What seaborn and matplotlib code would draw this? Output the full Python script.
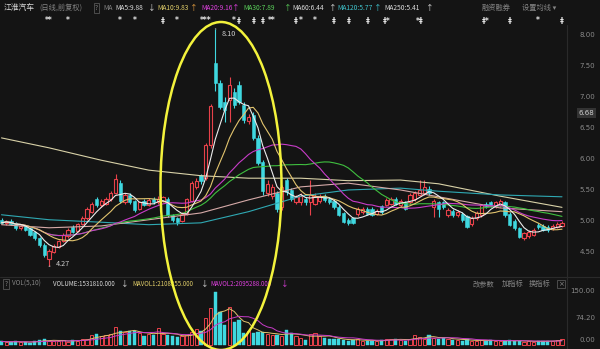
import numpy as np
import pandas as pd
import matplotlib
matplotlib.use("Agg")
import matplotlib.pyplot as plt
import matplotlib.transforms as mtrans
from matplotlib.patches import Ellipse
from matplotlib.lines import Line2D
import seaborn as sns

# ---------------- data ----------------
opens = [5.02, 4.96, 5.00, 4.97, 4.88, 4.92, 4.88, 4.82, 4.72, 4.62,
         4.38, 4.50, 4.58, 4.68, 4.75, 4.90, 4.84, 4.95, 5.04, 5.15,
         5.35, 5.25, 5.28, 5.35, 5.45, 5.62, 5.30, 5.42, 5.32, 5.20,
         5.32, 5.26, 5.36, 5.30, 5.33, 5.36, 5.10, 5.04, 5.00, 5.12,
         5.32, 5.55, 5.74, 5.70, 6.22, 7.55, 7.22, 6.92, 6.95, 7.08,
         7.19, 6.87, 6.62, 6.71, 6.34, 5.95, 5.45, 5.40, 5.45, 5.22,
         5.66, 5.50, 5.30, 5.30, 5.36, 5.30, 5.28, 5.32, 5.40, 5.36,
         5.33, 5.23, 5.13, 5.02, 5.05, 5.12, 5.15, 5.20, 5.20, 5.12,
         5.24, 5.26, 5.28, 5.36, 5.26, 5.30, 5.30, 5.35, 5.42, 5.45,
         5.52, 5.22, 5.30, 5.30, 5.10, 5.16, 5.10, 5.12, 5.08, 4.95,
         5.05, 5.10, 5.28, 5.30, 5.24, 5.25, 5.30, 5.12, 5.00, 4.89,
         4.72, 4.75, 4.77, 4.94, 4.92, 4.90, 4.88, 4.90, 4.92]
closes = [4.97, 5.00, 4.95, 4.88, 4.92, 4.86, 4.78, 4.72, 4.62, 4.45,
          4.52, 4.60, 4.68, 4.77, 4.85, 4.82, 4.95, 5.05, 5.20, 5.28,
          5.25, 5.32, 5.36, 5.45, 5.68, 5.32, 5.42, 5.30, 5.18, 5.30,
          5.26, 5.34, 5.30, 5.36, 5.38, 5.10, 5.02, 4.98, 5.12, 5.35,
          5.62, 5.65, 5.64, 6.22, 6.85, 7.22, 6.84, 6.79, 7.19, 6.87,
          6.92, 6.63, 6.68, 6.34, 5.94, 5.48, 5.60, 5.55, 5.20, 5.55,
          5.46, 5.35, 5.38, 5.40, 5.30, 5.42, 5.40, 5.40, 5.34, 5.30,
          5.22, 5.10, 4.98, 4.97, 4.97, 5.20, 5.20, 5.12, 5.10, 5.16,
          5.15, 5.34, 5.36, 5.28, 5.32, 5.20, 5.42, 5.45, 5.50, 5.55,
          5.45, 5.32, 5.20, 5.22, 5.18, 5.10, 5.14, 5.02, 4.90, 5.05,
          5.13, 5.25, 5.24, 5.26, 5.30, 5.32, 5.10, 4.94, 4.88, 4.74,
          4.80, 4.82, 4.86, 4.90, 4.86, 4.86, 4.92, 4.95, 4.97]
highs = [5.05, 5.02, 5.03, 4.99, 4.95, 4.94, 4.90, 4.84, 4.74, 4.64,
         4.55, 4.63, 4.70, 4.80, 4.88, 4.93, 4.97, 5.08, 5.22, 5.31,
         5.38, 5.35, 5.38, 5.48, 5.76, 5.66, 5.45, 5.45, 5.34, 5.33,
         5.35, 5.37, 5.39, 5.40, 5.41, 5.38, 5.12, 5.06, 5.14, 5.37,
         5.64, 5.70, 5.76, 6.25, 6.88, 8.10, 7.28, 7.00, 7.32, 7.15,
         7.25, 6.92, 6.72, 6.75, 6.38, 5.98, 5.66, 5.60, 5.48, 5.58,
         5.70, 5.53, 5.42, 5.45, 5.39, 5.66, 5.45, 5.43, 5.43, 5.38,
         5.35, 5.26, 5.15, 5.05, 5.07, 5.23, 5.23, 5.23, 5.22, 5.19,
         5.26, 5.37, 5.39, 5.38, 5.35, 5.33, 5.45, 5.48, 5.66, 5.66,
         5.56, 5.35, 5.33, 5.33, 5.21, 5.19, 5.17, 5.14, 5.10, 5.08,
         5.16, 5.28, 5.31, 5.33, 5.33, 5.35, 5.33, 5.14, 5.03, 4.91,
         4.83, 4.85, 4.89, 4.97, 4.95, 4.93, 4.95, 4.98, 5.00]
lows = [4.95, 4.94, 4.93, 4.86, 4.86, 4.84, 4.76, 4.70, 4.58, 4.42,
        4.27, 4.48, 4.56, 4.66, 4.73, 4.80, 4.82, 4.93, 5.02, 5.13,
        5.22, 5.23, 5.26, 5.33, 5.43, 5.29, 5.28, 5.28, 5.15, 5.18,
        5.24, 5.24, 5.28, 5.28, 5.31, 5.07, 4.99, 4.93, 4.98, 5.10,
        5.30, 5.52, 5.60, 5.66, 6.18, 7.10, 6.80, 6.60, 6.60, 6.82,
        6.88, 6.58, 6.56, 6.30, 5.90, 5.42, 5.40, 5.36, 5.15, 5.18,
        5.42, 5.32, 5.27, 5.26, 5.26, 5.10, 5.25, 5.29, 5.31, 5.27,
        5.20, 5.08, 4.96, 4.94, 4.95, 5.08, 5.12, 5.09, 5.08, 5.10,
        5.12, 5.24, 5.25, 5.25, 5.23, 5.17, 5.27, 5.32, 5.40, 5.42,
        5.42, 5.06, 5.06, 5.19, 5.07, 5.07, 5.07, 4.99, 4.88, 4.92,
        5.02, 5.07, 5.21, 5.23, 5.21, 5.22, 5.07, 4.92, 4.85, 4.72,
        4.70, 4.72, 4.75, 4.87, 4.84, 4.83, 4.86, 4.88, 4.90]
volumes = [10, 8, 9, 10, 7, 9, 6, 12, 14, 17,
           12, 10, 10, 14, 9, 14, 12, 16, 18, 28,
           30, 25, 28, 30, 50, 39, 36, 38, 40, 33,
           25, 30, 28, 47, 30, 28, 24, 22, 25, 28,
           35, 45, 40, 75, 103, 147, 92, 56, 106, 64,
           70, 33, 38, 33, 35, 36, 30, 28, 27, 25,
           42, 33, 25, 20, 15, 30, 33, 25, 20, 18,
           16, 16, 14, 12, 15, 16, 12, 10, 12, 10,
           14, 18, 16, 16, 14, 12, 18, 28, 22, 18,
           28, 20, 16, 20, 18, 14, 14, 12, 16, 12,
           10, 14, 12, 14, 10, 12, 10, 14, 12, 12,
           8, 10, 9, 12, 11, 10, 12, 13, 18]

# long moving averages read at a few candle positions
ma_long_idx = [0, 10, 21, 31, 42, 52, 63, 73, 84, 92, 105, 118]
ma60_vals = [4.94, 4.89, 4.92, 5.02, 5.13, 5.34, 5.55, 5.61, 5.50, 5.39, 5.21, 5.15]
ma120_vals = [5.10, 5.02, 4.98, 4.94, 4.97, 5.15, 5.40, 5.50, 5.53, 5.48, 5.42, 5.39]
ma250_vals = [6.34, 6.18, 5.98, 5.82, 5.73, 5.69, 5.69, 5.65, 5.66, 5.60, 5.40, 5.22]

price_ticks = [8.00, 7.50, 7.00, 6.50, 6.00, 5.50, 5.00, 4.50]
vol_tick_labels = ["150.00", "74.20", "0.00"]

signal_idx = [10, 14, 25, 28, 34, 37, 43, 49, 50, 53, 55, 57, 62, 63, 66, 70,
              73, 77, 81, 88, 102, 107, 113, 118]
signal_txt = ["**", "*", "*", "*", "‡", "*", "***", "*", "‡", "‡", "‡", "**", "‡",
              "*", "*", "‡", "‡", "‡", "‡*", "*‡", "‡*", "‡", "*", "‡"]

high_label, low_label = "8.10", "4.27"

# ---------------- styling ----------------
sns.set_theme(style="dark")
plt.rcParams["font.family"] = ["Noto Sans CJK SC", "DejaVu Sans"]
BG = "#141414"
RED = "#e8414a"
CYAN = "#3fd8e0"
W, H = 600, 349
STEP = 4.75

def fx(px):
    return px / W

def fy(py):
    return 1 - py / H

fig = plt.figure(figsize=(6, 3.49), dpi=100, facecolor=BG)
ax = fig.add_axes([0, fy(272), 566 / W, (272 - 25) / H])
axv = fig.add_axes([0, fy(346), 566 / W, (346 - 289) / H])
for a in (ax, axv):
    a.set_facecolor(BG)
    a.set_xticks([])
    a.set_yticks([])
    a.grid(False)
    for s in a.spines.values():
        s.set_visible(False)
    a.set_xlim(-1.5 / STEP, (566 - 1.5) / STEP)
ax.set_ylim(4.177, 8.161)
axv.set_ylim(-2.78, 155.6)

df = pd.DataFrame({"i": np.arange(len(closes)), "open": opens, "close": closes,
                   "high": highs, "low": lows, "vol": volumes})
df["up"] = df["close"] >= df["open"]
df["top"] = df[["open", "close"]].max(axis=1)
df["bot"] = df[["open", "close"]].min(axis=1)
for w in (5, 10, 20, 30):
    df[f"ma{w}"] = df["close"].rolling(w, min_periods=1).mean()
df["mv1"] = df["vol"].rolling(5, min_periods=1).mean()
df["mv2"] = df["vol"].rolling(10, min_periods=1).mean()
dl = pd.DataFrame({"i": ma_long_idx, "ma60": ma60_vals, "ma120": ma120_vals,
                   "ma250": ma250_vals})

BW = 0.70
up = df[df["up"]]
dn = df[~df["up"]]
# candles
ax.vlines(dn["i"], dn["low"], dn["high"], color=CYAN, lw=0.8, zorder=3)
ax.vlines(up["i"], up["top"], up["high"], color=RED, lw=0.8, zorder=3)
ax.vlines(up["i"], up["low"], up["bot"], color=RED, lw=0.8, zorder=3)
ax.bar(dn["i"], np.maximum(dn["top"] - dn["bot"], 0.012), bottom=dn["bot"],
       width=BW, color=CYAN, edgecolor=CYAN, lw=0.4, zorder=4)
ax.bar(up["i"], np.maximum(up["top"] - up["bot"], 0.012), bottom=up["bot"],
       width=BW, facecolor=BG, edgecolor=RED, lw=0.8, zorder=4)

# moving averages
line_specs = [("ma250", "#d9d2a8", dl), ("ma120", "#2fa9b3", dl), ("ma60", "#d6aaa8", dl),
              ("ma30", "#3fbf3f", df), ("ma20", "#c83cc8", df), ("ma10", "#e2c46e", df),
              ("ma5", "#ececec", df)]
for col, c, d in line_specs:
    sns.lineplot(data=d, x="i", y=col, ax=ax, color=c, lw=0.8, legend=False, zorder=5)
ax.set_xlabel("")
ax.set_ylabel("")
ax.set_xticks([])
ax.set_yticks([])

# high / low annotations
ihi = int(np.argmax(highs))
ilo = int(np.argmin(lows))
ax.annotate(high_label, xy=(ihi, highs[ihi]), xytext=(ihi + 1.4, highs[ihi] - 0.08),
            color="#d0d0d0", fontsize=5.2, ha="left", va="center",
            arrowprops=dict(arrowstyle="-", color="#d0d0d0", lw=0.6), zorder=6)
ax.annotate(low_label, xy=(ilo, lows[ilo]), xytext=(ilo + 1.5, lows[ilo] + 0.03),
            color="#d0d0d0", fontsize=5.2, ha="left", va="center",
            arrowprops=dict(arrowstyle="-", color="#d0d0d0", lw=0.6), zorder=6)

# volume bars
vu = df[df["up"]]
vd = df[~df["up"]]
axv.bar(vd["i"], vd["vol"], width=BW, color=CYAN, edgecolor=CYAN, lw=0.3, zorder=3)
axv.bar(vu["i"], vu["vol"], width=BW, facecolor=BG, edgecolor=RED, lw=0.7, zorder=3)
sns.lineplot(data=df, x="i", y="mv1", ax=axv, color="#e2c46e", lw=0.7, legend=False, zorder=4)
sns.lineplot(data=df, x="i", y="mv2", ax=axv, color="#c83cc8", lw=0.7, legend=False, zorder=4)
axv.set_xlabel("")
axv.set_ylabel("")
axv.set_xticks([])
axv.set_yticks([])

# right price labels
tr = mtrans.blended_transform_factory(fig.transFigure, ax.transData)
for p in price_ticks:
    ax.text(fx(595), p, f"{p:.2f}", transform=tr, ha="right", va="center",
            color="#8a8a8a", fontsize=5, family="DejaVu Sans")
fig.text(fx(594), fy(113), "6.68", ha="right", va="center", color="#cfcfcf",
         fontsize=5, family="DejaVu Sans",
         bbox=dict(boxstyle="square,pad=0.25", fc="#333333", ec="none"))
for lab, py in zip(vol_tick_labels, [291, 318, 340]):
    fig.text(fx(595), fy(py), lab, ha="right", va="center", color="#8a8a8a",
             fontsize=5, family="DejaVu Sans")

# signals row
ts = mtrans.blended_transform_factory(ax.transData, fig.transFigure)
for i, s in zip(signal_idx, signal_txt):
    fig.text(i, fy(21), s, transform=ts, ha="center", va="center",
             color="#e6e6e6", fontsize=5.5, family="DejaVu Sans", weight="bold")

# separators
fig.add_artist(Line2D([fx(566.5)] * 2, [fy(25), fy(349)], transform=fig.transFigure,
                      color="#2a2a2a", lw=0.8))
fig.add_artist(Line2D([0, 1], [fy(277), fy(277)], transform=fig.transFigure,
                      color="#2a2a2a", lw=0.8))

# header row
WHITE, GRAY = "#dcdcdc", "#858585"
YEL, MAG, GRN, TEAL = "#e2cf6a", "#e040e0", "#5ad05a", "#3fc3cc"
hdr = [(4, "江淮汽车", WHITE, 5.6), (39, "(日线,前复权)", GRAY, 5.2),
       (103, "MA", GRAY, 4.8), (115, "MA5:9.88", WHITE, 4.8), (148, "↓", WHITE, 5.5),
       (157, "MA10:9.83", YEL, 4.8), (190, "↑", "#e8a040", 5.5),
       (201, "MA20:9.16", MAG, 4.8), (232, "↑", MAG, 5.5),
       (243, "MA30:7.89", GRN, 4.8), (284, "↑", GRN, 5.5),
       (292, "MA60:6.44", WHITE, 4.8), (329, "↑", WHITE, 5.5),
       (337, "MA120:5.77", TEAL, 4.8), (374, "↑", TEAL, 5.5),
       (384, "MA250:5.41", WHITE, 4.8), (426, "↑", WHITE, 5.5),
       (482, "融资融券", GRAY, 5.2), (522, "设置均线 ▾", GRAY, 5.2)]
for px, s, c, fs in hdr:
    fig.text(fx(px), fy(8), s, color=c, fontsize=fs, ha="left", va="center")
fig.text(fx(96.5), fy(8), "?", color=GRAY, fontsize=4.5, ha="center", va="center",
         bbox=dict(boxstyle="square,pad=0.2", fc="none", ec="#555555", lw=0.6))

# volume header
vh = [(12, "VOL(5,10)", GRAY, 4.6), (53, "VOLUME:1531810.000", WHITE, 4.4),
      (121, "↓", WHITE, 5.5), (132, "MAVOL1:2108355.000", YEL, 4.4), (201, "↓", WHITE, 5.5),
      (210, "MAVOL2:2095288.000", MAG, 4.4), (281, "↓", MAG, 5.5),
      (473, "改参数", GRAY, 5.2), (502, "加指标", GRAY, 5.2), (529, "换指标", GRAY, 5.2)]
for px, s, c, fs in vh:
    fig.text(fx(px), fy(284), s, color=c, fontsize=fs, ha="left", va="center")
fig.text(fx(6), fy(284), "?", color=GRAY, fontsize=4.5, ha="center", va="center",
         bbox=dict(boxstyle="square,pad=0.2", fc="none", ec="#555555", lw=0.6))
fig.text(fx(561), fy(284), "×", color=GRAY, fontsize=5, ha="center", va="center",
         family="DejaVu Sans",
         bbox=dict(boxstyle="square,pad=0.15", fc="none", ec="#555555", lw=0.6))

# highlight ellipse
fig.add_artist(Ellipse((fx(221), fy(186)), 121 / W, 328 / H, transform=fig.transFigure,
                       fill=False, edgecolor="#f3f23c", lw=1.8, zorder=10))

fig.savefig("out.png", dpi=100, facecolor=BG)
